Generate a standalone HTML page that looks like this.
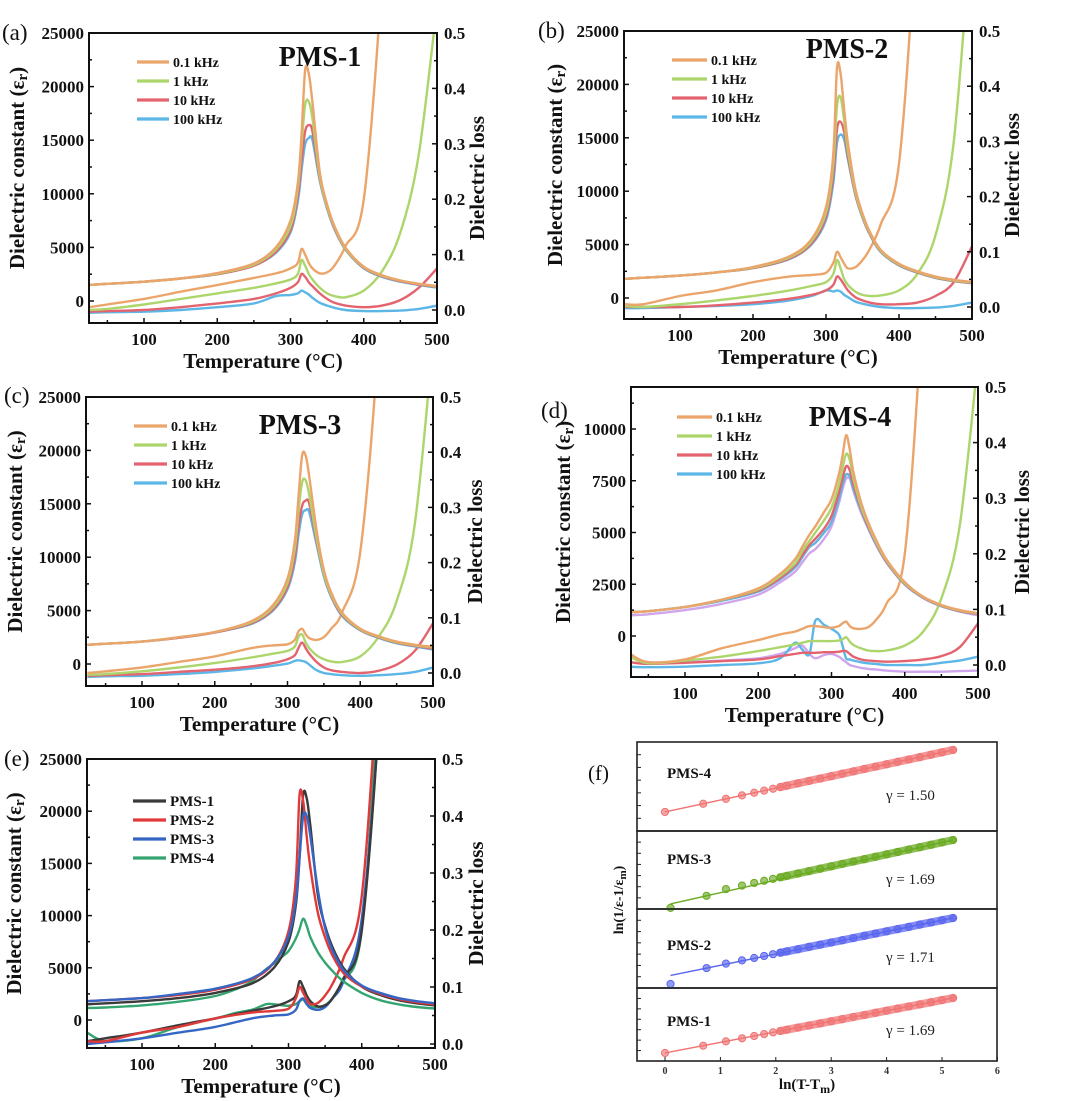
<!DOCTYPE html>
<html><head><meta charset="utf-8"><style>
html,body{margin:0;padding:0;background:#fff}
svg{display:block}
text{font-family:"Liberation Serif","DejaVu Serif",serif}
</style></head><body>
<svg id="fig" xmlns="http://www.w3.org/2000/svg" width="1080" height="1101" viewBox="0 0 1080 1101"></svg>
<script>
// ---- shared temperature grid ----
const T = [25,50,100,150,200,250,280,300,310,315,320,325,330,340,350,360,375,400,425,450,475,500];
const TD = [25,50,100,150,200,230,250,260,270,278,290,300,310,315,320,325,330,340,350,360,375,400,425,450,475,500];
// ---- panel (a) PMS-1 ----
const aEps01 = [1500,1600,1800,2100,2600,3500,5000,7500,11000,15500,21500,21200,18500,12000,9000,7000,5000,3200,2400,1900,1600,1400];
const aEps1 = [1500,1600,1800,2100,2550,3400,4800,7000,10500,14500,18300,18600,17000,11600,8800,6900,4900,3150,2350,1900,1600,1350];
const aEps10 = [1500,1600,1800,2100,2500,3300,4600,6600,9800,13000,15800,16400,15800,11400,8700,6800,4850,3100,2300,1850,1550,1300];
const aEps100 = [1500,1600,1800,2100,2500,3300,4500,6400,9300,12200,14600,15200,15000,11200,8600,6700,4800,3050,2250,1800,1500,1250];
const aLoss01 = [0.005,0.01,0.02,0.033,0.045,0.058,0.066,0.075,0.085,0.11,0.1,0.085,0.075,0.066,0.068,0.08,0.115,0.2,0.6,1.2,1.8,2.4];
const aLoss1 = [0,0.002,0.01,0.02,0.03,0.04,0.048,0.055,0.065,0.09,0.08,0.065,0.055,0.04,0.03,0.025,0.023,0.035,0.07,0.14,0.28,0.55];
const aLoss10 = [-0.003,-0.002,0,0.005,0.012,0.02,0.03,0.04,0.05,0.065,0.06,0.05,0.043,0.03,0.02,0.013,0.008,0.005,0.008,0.018,0.04,0.075];
const aLoss100 = [-0.005,-0.004,-0.003,0,0.005,0.012,0.025,0.027,0.03,0.035,0.032,0.028,0.022,0.013,0.008,0.004,0.0,-0.002,-0.002,-0.001,0.002,0.008];
// ---- panel (b) PMS-2 ----
const bEps01 = [1800,1900,2100,2400,2900,3900,5500,8500,13500,21500,21000,17500,14500,10300,7900,6200,4500,3200,2500,2000,1700,1500];
const bEps1 = [1800,1900,2100,2400,2850,3800,5300,8000,12500,18000,18800,16500,13800,10000,7700,6100,4400,3150,2450,1950,1650,1450];
const bEps10 = [1800,1900,2100,2400,2800,3700,5100,7600,11500,15800,16500,15500,13300,9800,7600,6000,4350,3100,2400,1900,1600,1400];
const bEps100 = [1800,1900,2100,2400,2800,3650,5000,7300,10800,14500,15300,14800,13000,9700,7500,5950,4300,3050,2380,1880,1580,1380];
const bLoss01 = [0.005,0.005,0.02,0.03,0.045,0.055,0.058,0.062,0.08,0.1,0.09,0.078,0.07,0.072,0.085,0.105,0.15,0.26,0.7,1.2,1.8,2.4];
const bLoss1 = [0.002,0.0,0.005,0.012,0.02,0.03,0.038,0.045,0.06,0.085,0.07,0.05,0.04,0.028,0.022,0.02,0.021,0.03,0.06,0.13,0.3,0.7];
const bLoss10 = [0.0,0.0,0.0,0.003,0.008,0.015,0.022,0.03,0.04,0.055,0.05,0.04,0.03,0.018,0.012,0.008,0.005,0.005,0.008,0.02,0.045,0.11];
const bLoss100 = [-0.002,-0.002,0,0.002,0.005,0.012,0.02,0.03,0.028,0.03,0.028,0.022,0.018,0.01,0.006,0.003,0.0,-0.002,-0.002,-0.001,0.002,0.008];
// ---- panel (c) PMS-3 ----
const cEps01 = [1800,1900,2100,2500,3000,4000,5500,8000,11500,15500,19500,19500,17500,12500,8800,6700,4800,3300,2600,2100,1800,1600];
const cEps1 = [1800,1900,2100,2500,3000,3900,5300,7600,10800,14200,17000,17200,15800,11800,8500,6500,4700,3250,2550,2050,1750,1550];
const cEps10 = [1800,1900,2100,2450,2950,3800,5100,7200,10000,12800,14800,15300,15000,11500,8400,6400,4600,3200,2500,2000,1700,1450];
const cEps100 = [1800,1900,2100,2450,2950,3750,5000,7000,9500,12000,14000,14400,14200,11200,8200,6300,4500,3150,2450,1950,1650,1350];
const cLoss01 = [0.0,0.003,0.01,0.02,0.03,0.045,0.05,0.052,0.06,0.075,0.08,0.07,0.063,0.06,0.065,0.08,0.11,0.22,0.6,1.2,1.8,2.4];
const cLoss1 = [-0.003,-0.002,0.003,0.01,0.018,0.028,0.035,0.04,0.048,0.065,0.07,0.055,0.045,0.032,0.025,0.021,0.02,0.03,0.065,0.13,0.27,0.6];
const cLoss10 = [-0.005,-0.004,-0.002,0.002,0.006,0.012,0.018,0.025,0.032,0.045,0.055,0.045,0.035,0.02,0.01,0.005,0.002,0.0,0.004,0.015,0.04,0.09];
const cLoss100 = [-0.007,-0.006,-0.005,-0.002,0.002,0.008,0.013,0.017,0.022,0.023,0.022,0.02,0.015,0.005,0.0,-0.002,-0.004,-0.005,-0.004,-0.002,0.002,0.01];
// ---- panel (d) PMS-4 (grid TD) ----
const dEps01 = [1150,1200,1400,1750,2300,3000,3700,4300,4900,5300,6000,6600,7800,8700,9700,9000,7900,6500,5500,4700,3700,2600,1900,1500,1250,1100];
const dEps1 = [1150,1200,1400,1750,2250,2900,3500,4100,4600,5000,5600,6200,7300,8100,8800,8500,7600,6300,5400,4600,3650,2550,1880,1480,1230,1080];
const dEps10 = [1150,1200,1400,1750,2200,2800,3400,3900,4400,4700,5200,5800,6900,7600,8200,8000,7300,6200,5300,4550,3600,2520,1860,1460,1210,1060];
const dEps100 = [1150,1200,1400,1700,2150,2750,3300,3800,4300,4500,5000,5500,6600,7300,7800,7700,7100,6100,5250,4500,3580,2500,1850,1450,1200,1050];
const dEpsExtra = [1000,1050,1250,1550,2000,2600,3100,3550,4000,4200,4700,5300,6400,7100,7600,7600,7000,6000,5200,4450,3550,2480,1830,1430,1180,1000];
const dLoss01 = [0.02,0.005,0.01,0.03,0.045,0.055,0.06,0.065,0.07,0.07,0.068,0.067,0.07,0.075,0.078,0.07,0.066,0.065,0.068,0.08,0.11,0.2,0.65,1.2,1.8,2.4];
const dLoss1 = [0.015,0.003,0.008,0.015,0.025,0.032,0.037,0.04,0.043,0.043,0.043,0.043,0.044,0.046,0.05,0.042,0.036,0.03,0.026,0.025,0.026,0.035,0.06,0.12,0.25,0.55];
const dLoss10 = [0.005,0.002,0.004,0.007,0.01,0.016,0.02,0.022,0.022,0.022,0.023,0.023,0.024,0.025,0.025,0.02,0.015,0.01,0.008,0.007,0.006,0.007,0.01,0.016,0.032,0.075];
const dLoss100 = [-0.003,-0.004,-0.003,0.0,0.003,0.012,0.04,0.028,0.02,0.08,0.072,0.065,0.055,0.035,0.012,0.01,0.008,0.005,0.003,0.002,0.0,0.0,0.0,0.004,0.008,0.015];
const dLossExtra = [0.015,0.005,0.005,0.008,0.012,0.02,0.03,0.035,0.02,0.012,0.018,0.02,0.015,0.01,0.005,0.0,-0.002,-0.005,-0.007,-0.008,-0.01,-0.012,-0.012,-0.012,-0.011,-0.01];
// ---- panel (f) ln plots ----
const fxA = [0,0.69,1.1,1.39,1.61,1.79,1.95,2.08,2.2,2.4,2.6,2.8,3.0,3.2,3.4,3.6,3.8,4.0,4.2,4.4,4.6,4.8,5.0,5.2];
const fxB = [0.1,0.75,1.1,1.39,1.61,1.79,1.95,2.08,2.2,2.4,2.6,2.8,3.0,3.2,3.4,3.6,3.8,4.0,4.2,4.4,4.6,4.8,5.0,5.2];
const fy4 = [-12,-10.97,-10.35,-9.92,-9.59,-9.32,-9.08,-8.88,-8.7,-8.4,-8.1,-7.8,-7.5,-7.2,-6.9,-6.6,-6.3,-6.0,-5.7,-5.4,-5.1,-4.8,-4.5,-4.2];
const fy3 = [-12.8,-11.1,-10.14,-9.65,-9.28,-8.97,-8.7,-8.48,-8.28,-7.94,-7.61,-7.27,-6.93,-6.59,-6.25,-5.92,-5.58,-5.24,-4.9,-4.56,-4.23,-3.89,-3.55,-3.21];
const fy2 = [-13.25,-10.8,-10.12,-9.62,-9.25,-8.94,-8.67,-8.44,-8.24,-7.9,-7.55,-7.21,-6.87,-6.53,-6.19,-5.84,-5.5,-5.16,-4.82,-4.48,-4.13,-3.79,-3.45,-3.11];
const fy1 = [-12,-10.83,-10.14,-9.65,-9.28,-8.97,-8.7,-8.48,-8.28,-7.94,-7.61,-7.27,-6.93,-6.59,-6.25,-5.92,-5.58,-5.24,-4.9,-4.56,-4.23,-3.89,-3.55,-3.21];
const fGamma = ["1.50","1.69","1.71","1.69"];
const xTickLabels = ["100","200","300","400","500"];
const lossTickLabels = ["0.0","0.1","0.2","0.3","0.4","0.5"];

const NS = "http://www.w3.org/2000/svg";
const svg = document.getElementById('fig');
function mk(tag, attrs, parent){const e=document.createElementNS(NS,tag);for(const k in attrs)e.setAttribute(k,attrs[k]);(parent||svg).appendChild(e);return e;}
function smooth(pts){
  let d="M"+pts[0][0].toFixed(1)+","+pts[0][1].toFixed(1);
  for(let i=0;i<pts.length-1;i++){
    const p0=pts[Math.max(0,i-1)],p1=pts[i],p2=pts[i+1],p3=pts[Math.min(pts.length-1,i+2)];
    const c1=[p1[0]+(p2[0]-p0[0])/6,p1[1]+(p2[1]-p0[1])/6];
    const c2=[p2[0]-(p3[0]-p1[0])/6,p2[1]-(p3[1]-p1[1])/6];
    d+="C"+c1[0].toFixed(1)+","+c1[1].toFixed(1)+" "+c2[0].toFixed(1)+","+c2[1].toFixed(1)+" "+p2[0].toFixed(1)+","+p2[1].toFixed(1);
  }
  return d;
}
const C01="#eba56b",C1="#acd66c",C10="#e3646f",C100="#5cb6e6",CP="#cfa6ec";

function panel(cfg){
  const g=mk('g',{});
  
  
  const b=cfg.box;
  const sx=t=>cfg.x100+(t-100)*(b.x1-cfg.x100)/400;
  const se=v=>cfg.eps0-v*(cfg.eps0-b.y0)/cfg.epsTop;
  const sl=v=>cfg.loss0-v*(cfg.loss0-b.y0)/0.5;
  const cp=mk('clipPath',{id:'clip-'+cfg.id},g);
  mk('rect',{x:b.x0,y:b.y0,width:b.x1-b.x0,height:b.y1-b.y0},cp);
  const sg=mk('g',{'clip-path':'url(#clip-'+cfg.id+')'},g);
  for(const s of cfg.series){
    const pts=s.t.map((t,i)=>[sx(t),s.axis==='eps'?se(s.v[i]):sl(s.v[i])]);
    const p=mk('path',{d:smooth(pts),fill:'none',stroke:s.color,'stroke-width':2.4,'stroke-linejoin':'round'},sg);
    
    
  }
  const fr=mk('rect',{x:b.x0,y:b.y0,width:b.x1-b.x0,height:b.y1-b.y0,fill:'none',stroke:'#111','stroke-width':2},g);
  
  
  for(let t=50;t<=500;t+=50){
    const x=sx(t);if(x<b.x0)continue;const L=t%100===0?5:3;
    mk('line',{x1:x,x2:x,y1:b.y1,y2:b.y1-L,stroke:'#111','stroke-width':1.5},g);
  }
  xTickLabels.forEach(lbl=>{
    const tl=mk('text',{x:sx(+lbl),y:b.y1+22,'text-anchor':'middle','font-size':17,'font-weight':'bold',fill:'#111'},g);
    tl.textContent=lbl;
    
    
  });
  const xt=mk('text',{x:(b.x0+b.x1)/2,y:b.y1+45,'text-anchor':'middle','font-size':21,'font-weight':'bold',fill:'#111'},g);
  xt.textContent='Temperature (°C)';
  
  
  for(let v=0;v<=cfg.epsTop;v+=cfg.epsStep/2){
    const y=se(v);const major=Math.abs((v/cfg.epsStep)-Math.round(v/cfg.epsStep))<1e-6;
    mk('line',{x1:b.x0,x2:b.x0+(major?5:3),y1:y,y2:y,stroke:'#111','stroke-width':1.5},g);
    if(major){
      const tl=mk('text',{x:b.x0-5,y:y+6,'text-anchor':'end','font-size':17,'font-weight':'bold',fill:'#111'},g);
      tl.textContent=String(v);
      
      
    }
  }
  for(let k=0;k<=10;k++){
    const y=sl(k*0.05);const major=k%2===0;
    mk('line',{x1:b.x1,x2:b.x1-(major?5:3),y1:y,y2:y,stroke:'#111','stroke-width':1.5},g);
  }
  lossTickLabels.forEach(lbl=>{
    const tl=mk('text',{x:b.x1+7,y:sl(+lbl)+6,'font-size':17,'font-weight':'bold',fill:'#111'},g);
    tl.textContent=lbl;
    
    
  });
  const cy=(b.y0+b.y1)/2;
  const lt=mk('text',{x:0,y:0,transform:`translate(${cfg.ltx},${cy-10}) rotate(-90)`,'text-anchor':'middle','font-size':21,'font-weight':'bold',fill:'#111'},g);
  lt.innerHTML='Dielectric constant (ε<tspan font-size="15" dy="3">r</tspan><tspan dy="-3">)</tspan>';
  
  
  const rt=mk('text',{x:0,y:0,transform:`translate(${cfg.rtx},${cy}) rotate(-90)`,'text-anchor':'middle','font-size':21,'font-weight':'bold',fill:'#111'},g);
  rt.textContent='Dielectric loss';
  
  
  const le=mk('text',{x:cfg.letter[0],y:cfg.letter[1],'font-size':23,fill:'#111'},g);
  le.textContent=cfg.letter[2];
  
  
  if(cfg.title){
    const tt=mk('text',{x:cfg.title[0],y:cfg.title[1],'text-anchor':'middle','font-size':28,'font-weight':'bold',fill:'#111'},g);
    tt.textContent=cfg.title[2];
    
    
  }
  const lg=cfg.legend;
  lg.items.forEach((it,i)=>{
    const y=lg.y+i*lg.dy;
    const ln=mk('line',{x1:lg.x,x2:lg.x+lg.len,y1:y,y2:y,stroke:it[1],'stroke-width':3.2},g);
    
    
    const tx=mk('text',{x:lg.x+lg.len+4,y:y+5,'font-size':lg.fs,'font-weight':'bold',fill:'#111'},g);
    tx.textContent=it[0];
    
    
  });
}
const freqLegend=[["0.1 kHz",C01],["1 kHz",C1],["10 kHz",C10],["100 kHz",C100]];
function freqSeries(p,t,e01,e1,e10,e100,l01,l1,l10,l100){
  return [
    {t,v:l100,axis:'loss',color:C100,name:p+'-loss-100khz'},
    {t,v:l10,axis:'loss',color:C10,name:p+'-loss-10khz'},
    {t,v:l1,axis:'loss',color:C1,name:p+'-loss-1khz'},
    {t,v:l01,axis:'loss',color:C01,name:p+'-loss-0.1khz'},
    {t,v:e100,axis:'eps',color:C100,name:p+'-eps-100khz'},
    {t,v:e10,axis:'eps',color:C10,name:p+'-eps-10khz'},
    {t,v:e1,axis:'eps',color:C1,name:p+'-eps-1khz'},
    {t,v:e01,axis:'eps',color:C01,name:p+'-eps-0.1khz'}];
}
panel({id:'a',box:{x0:89,x1:437,y0:33,y1:323},x100:144,epsTop:25000,epsStep:5000,eps0:301,loss0:310,ltx:24,rtx:484,
  letter:[2,40,'(a)'],title:[320,66,'PMS-1'],legend:{x:137,y:62,dy:19,len:32,fs:14,items:freqLegend},
  series:freqSeries('a',T,aEps01,aEps1,aEps10,aEps100,aLoss01,aLoss1,aLoss10,aLoss100)});
panel({id:'b',box:{x0:624,x1:972,y0:31,y1:319},x100:680,epsTop:25000,epsStep:5000,eps0:298,loss0:307,ltx:562,rtx:1019,
  letter:[538,38,'(b)'],title:[847,58,'PMS-2'],legend:{x:672,y:60,dy:19,len:35,fs:14,items:freqLegend},
  series:freqSeries('b',T,bEps01,bEps1,bEps10,bEps100,bLoss01,bLoss1,bLoss10,bLoss100)});
panel({id:'c',box:{x0:86,x1:433,y0:397,y1:686},x100:142,epsTop:25000,epsStep:5000,eps0:664,loss0:673,ltx:22,rtx:482,
  letter:[4,403,'(c)'],title:[300,434,'PMS-3'],legend:{x:134,y:426,dy:19,len:33,fs:14,items:freqLegend},
  series:freqSeries('c',T,cEps01,cEps1,cEps10,cEps100,cLoss01,cLoss1,cLoss10,cLoss100)});
const dSeries=[{t:TD,v:dLossExtra,axis:'loss',color:CP,name:'d-loss-extra'},{t:TD,v:dEpsExtra,axis:'eps',color:CP,name:'d-eps-extra'}]
  .concat(freqSeries('d',TD,dEps01,dEps1,dEps10,dEps100,dLoss01,dLoss1,dLoss10,dLoss100));
panel({id:'d',box:{x0:631,x1:978,y0:387,y1:677},x100:685,epsTop:12030,epsStep:2500,eps0:636,loss0:665,ltx:570,rtx:1029,
  letter:[541,418,'(d)'],title:[850,426,'PMS-4'],legend:{x:677,y:417,dy:19,len:35,fs:14,items:freqLegend},
  series:dSeries});
panel({id:'e',box:{x0:87,x1:435,y0:759,y1:1048},x100:142,epsTop:25000,epsStep:5000,eps0:1020,loss0:1044,ltx:21,rtx:483,
  letter:[4,766,'(e)'],title:null,legend:{x:133,y:801,dy:19,len:33,fs:15,items:[["PMS-1","#3a3a3a"],["PMS-2","#e0393a"],["PMS-3","#3566c4"],["PMS-4","#34a571"]]},
  series:[
    {t:TD,v:dLoss01,axis:'loss',color:'#34a571',name:'e-loss-pms4'},
    {t:T,v:cLoss01,axis:'loss',color:'#3566c4',name:'e-loss-pms3'},
    {t:T,v:aLoss01,axis:'loss',color:'#3a3a3a',name:'e-loss-pms1'},
    {t:T,v:bLoss01,axis:'loss',color:'#e0393a',name:'e-loss-pms2'},
    {t:TD,v:dEps01,axis:'eps',color:'#34a571',name:'e-eps-pms4'},
    {t:T,v:aEps01,axis:'eps',color:'#3a3a3a',name:'e-eps-pms1'},
    {t:T,v:bEps01,axis:'eps',color:'#e0393a',name:'e-eps-pms2'},
    {t:T,v:cEps01,axis:'eps',color:'#3566c4',name:'e-eps-pms3'}]});

(function(){
  const g=mk('g',{});
  
  
  const X0=637,X1=997;
  const fx=v=>665+v*55.4;
  const subs=[
    {name:'PMS-4',y0:742,y1:831,lo:-14.4,hi:-3.2,x:fxA,y:fy4,col:'#f07474',lab:778,gam:800},
    {name:'PMS-3',y0:831,y1:909,lo:-12.96,hi:-1.94,x:fxB,y:fy3,col:'#6aaa22',lab:864,gam:884},
    {name:'PMS-2',y0:909,y1:988,lo:-13.86,hi:-1.73,x:fxB,y:fy2,col:'#5a66ee',lab:950,gam:962},
    {name:'PMS-1',y0:988,y1:1061,lo:-13.28,hi:-1.61,x:fxA,y:fy1,col:'#f07474',lab:1026,gam:1035}];
  subs.forEach((s,si)=>{
    const fy=v=>s.y1-(v-s.lo)*(s.y1-s.y0)/(s.hi-s.lo);
    const fr=mk('rect',{x:X0,y:s.y0,width:X1-X0,height:s.y1-s.y0,fill:'none',stroke:'#222','stroke-width':1.6},g);
    
    
    for(let k=1;k<7;k++){const y=s.y0+k*(s.y1-s.y0)/7;mk('line',{x1:X0,x2:X0+4,y1:y,y2:y,stroke:'#222','stroke-width':1},g);}
    const n=s.x.length;
    const ln=mk('line',{x1:fx(s.x[0]),y1:fy(s.y[1]-(s.y[n-1]-s.y[1])/(s.x[n-1]-s.x[1])*(s.x[1]-s.x[0])),x2:fx(s.x[n-1]),y2:fy(s.y[n-1]),stroke:s.col,'stroke-width':1.4},g);
    
    
    const band=s.x.map((v,i)=>[fx(v),fy(s.y[i])]).filter((p,i)=>s.x[i]>=2.0);
    const bp=mk('path',{d:'M'+band.map(p=>p[0].toFixed(1)+','+p[1].toFixed(1)).join('L'),fill:'none',stroke:s.col,'stroke-width':8,'stroke-linecap':'round','stroke-opacity':0.75},g);
    
    
    s.x.forEach((v,i)=>{
      const c=mk('circle',{cx:fx(v),cy:fy(s.y[i]),r:3.6,fill:s.col,'fill-opacity':0.65,stroke:s.col,'stroke-width':1},g);
      
      
    });
    const lb=mk('text',{x:667,y:s.lab,'font-size':15,'font-weight':'bold',fill:'#111'},g);
    lb.textContent=s.name;
    
    
    const gm=mk('text',{x:886,y:s.gam,'font-size':15,fill:'#222'},g);
    gm.textContent='γ  =  '+fGamma[si];
    
    
  });
  for(let k=0;k<=6;k++){
    const x=fx(k);
    mk('line',{x1:x,x2:x,y1:1061,y2:1057,stroke:'#222','stroke-width':1},g);
    const t=mk('text',{x:x,y:1074,'text-anchor':'middle','font-size':10,'font-weight':'bold',fill:'#333'},g);
    t.textContent=String(k);
    
    
  }
  const xt=mk('text',{x:807,y:1089,'text-anchor':'middle','font-size':15,'font-weight':'bold',fill:'#111'},g);
  xt.innerHTML='ln(T-T<tspan font-size="12" dy="4">m</tspan><tspan dy="-4">)</tspan>';
  
  
  const yt=mk('text',{x:0,y:0,transform:'translate(623,900) rotate(-90)','text-anchor':'middle','font-size':14,'font-weight':'bold',fill:'#111'},g);
  yt.innerHTML='ln(1/ε-1/ε<tspan font-size="11" dy="3">m</tspan><tspan dy="-3">)</tspan>';
  
  
  const le=mk('text',{x:588,y:780,'font-size':21,fill:'#111'},g);
  le.textContent='(f)';
  
  
})();
</script>
</body></html>
